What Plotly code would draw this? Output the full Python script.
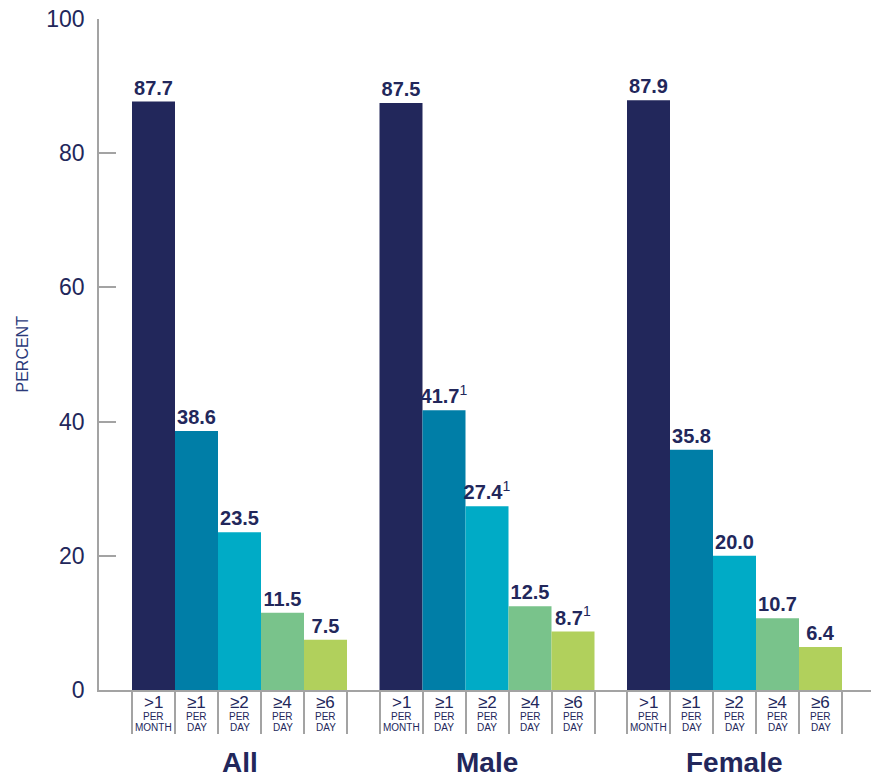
import plotly.graph_objects as go

# ---- data ----
groups = ["All", "Male", "Female"]
freq_symbols = ["&gt;1", "≥1", "≥2", "≥4", "≥6"]
freq_units = ["MONTH", "DAY", "DAY", "DAY", "DAY"]
all_vals = [87.7, 38.6, 23.5, 11.5, 7.5]
male_vals = [87.5, 41.7, 27.4, 12.5, 8.7]
female_vals = [87.9, 35.8, 20.0, 10.7, 6.4]
all_notes = [False, False, False, False, False]
male_notes = [False, True, True, False, True]
female_notes = [False, False, False, False, False]
y_ticks = [0, 20, 40, 60, 80, 100]

# ---- style ----
NAVY = "#22275b"
GREY = "#a3a3a3"
colors = ["#22275b", "#007ea7", "#00abc6", "#79c38b", "#b1d05c"]
FONT = "Liberation Sans, Arial, Helvetica, sans-serif"

OFF = 8  # page body margin
W, H = 879 - OFF, 779 - OFF
L, R, T, B = 99 - OFF, 6, 19 - OFF, 89
BAR_PX = 43.0
plot_w = W - L - R
X_MAX = plot_w / BAR_PX
START = 33.0 / BAR_PX
GROUP_STEP = 247.5 / BAR_PX

series = [all_vals, male_vals, female_vals]
notes = [all_notes, male_notes, female_notes]

fig = go.Figure()
for i in range(len(freq_symbols)):
    xs, ys, txt = [], [], []
    for g in range(len(groups)):
        xs.append(START + g * GROUP_STEP + i + 0.5)
        v = series[g][i]
        ys.append(v)
        t = f"<b>{v:.1f}</b>"
        if notes[g][i]:
            t += "<sup>1</sup>"
        txt.append(t)
    fig.add_trace(go.Bar(
        x=xs, y=ys, width=1.0, marker=dict(color=colors[i], line=dict(width=0)),
        text=txt, textposition="outside", constraintext="none", cliponaxis=False,
        textfont=dict(family=FONT, size=20, color=NAVY),
        hoverinfo="skip", showlegend=False,
    ))

boundaries = []
for g in range(len(groups)):
    for k in range(len(freq_symbols) + 1):
        boundaries.append(START + g * GROUP_STEP + k)

annotations = []
for g, name in enumerate(groups):
    cx = START + g * GROUP_STEP + len(freq_symbols) / 2
    annotations.append(dict(
        x=cx, y=0, xref="x", yref="y", text=f"<b>{name}</b>", showarrow=False,
        yanchor="middle", yshift=-(762 - 690),
        font=dict(family=FONT, size=28, color=NAVY),
    ))
    for i in range(len(freq_symbols)):
        bx = START + g * GROUP_STEP + i + 0.5
        annotations.append(dict(
            x=bx, y=0, xref="x", yref="y", text=freq_symbols[i], showarrow=False,
            yanchor="middle", yshift=-(702.5 - 690),
            font=dict(family=FONT, size=17, color=NAVY),
        ))
        annotations.append(dict(
            x=bx, y=0, xref="x", yref="y", text="PER", showarrow=False,
            yanchor="middle", yshift=-(716.5 - 690),
            font=dict(family=FONT, size=10, color=NAVY),
        ))
        annotations.append(dict(
            x=bx, y=0, xref="x", yref="y", text=freq_units[i], showarrow=False,
            yanchor="middle", yshift=-(727.5 - 690),
            font=dict(family=FONT, size=10, color=NAVY),
        ))

annotations.append(dict(
    x=(22 - 99) / plot_w, y=0.5, xref="paper", yref="paper", text="PERCENT",
    showarrow=False, textangle=-90, xanchor="center", yanchor="middle",
    font=dict(family=FONT, size=16, color="#2b3a7a"),
))

fig.update_layout(
    width=W, height=H, autosize=False,
    margin=dict(l=L, r=R, t=T, b=B, pad=0),
    plot_bgcolor="white", paper_bgcolor="white",
    barmode="overlay",
    annotations=annotations,
    xaxis=dict(
        range=[0, X_MAX], showgrid=False, zeroline=False, automargin=False,
        showline=True, linecolor=GREY, linewidth=1.5,
        tickmode="array", tickvals=boundaries, showticklabels=False,
        ticks="outside", ticklen=42, tickwidth=1.5, tickcolor=GREY,
        fixedrange=True,
    ),
    yaxis=dict(
        range=[0, 100], showgrid=False, zeroline=False, automargin=False,
        showline=True, linecolor=GREY, linewidth=1.5,
        tickmode="array", tickvals=y_ticks,
        ticks="inside", ticklen=17, tickwidth=1.5, tickcolor=GREY,
        tickfont=dict(family=FONT, size=23, color=NAVY),
        ticklabelstandoff=8, ticklabeloverflow="allow",
    ),
)

fig.write_html("out.html")
